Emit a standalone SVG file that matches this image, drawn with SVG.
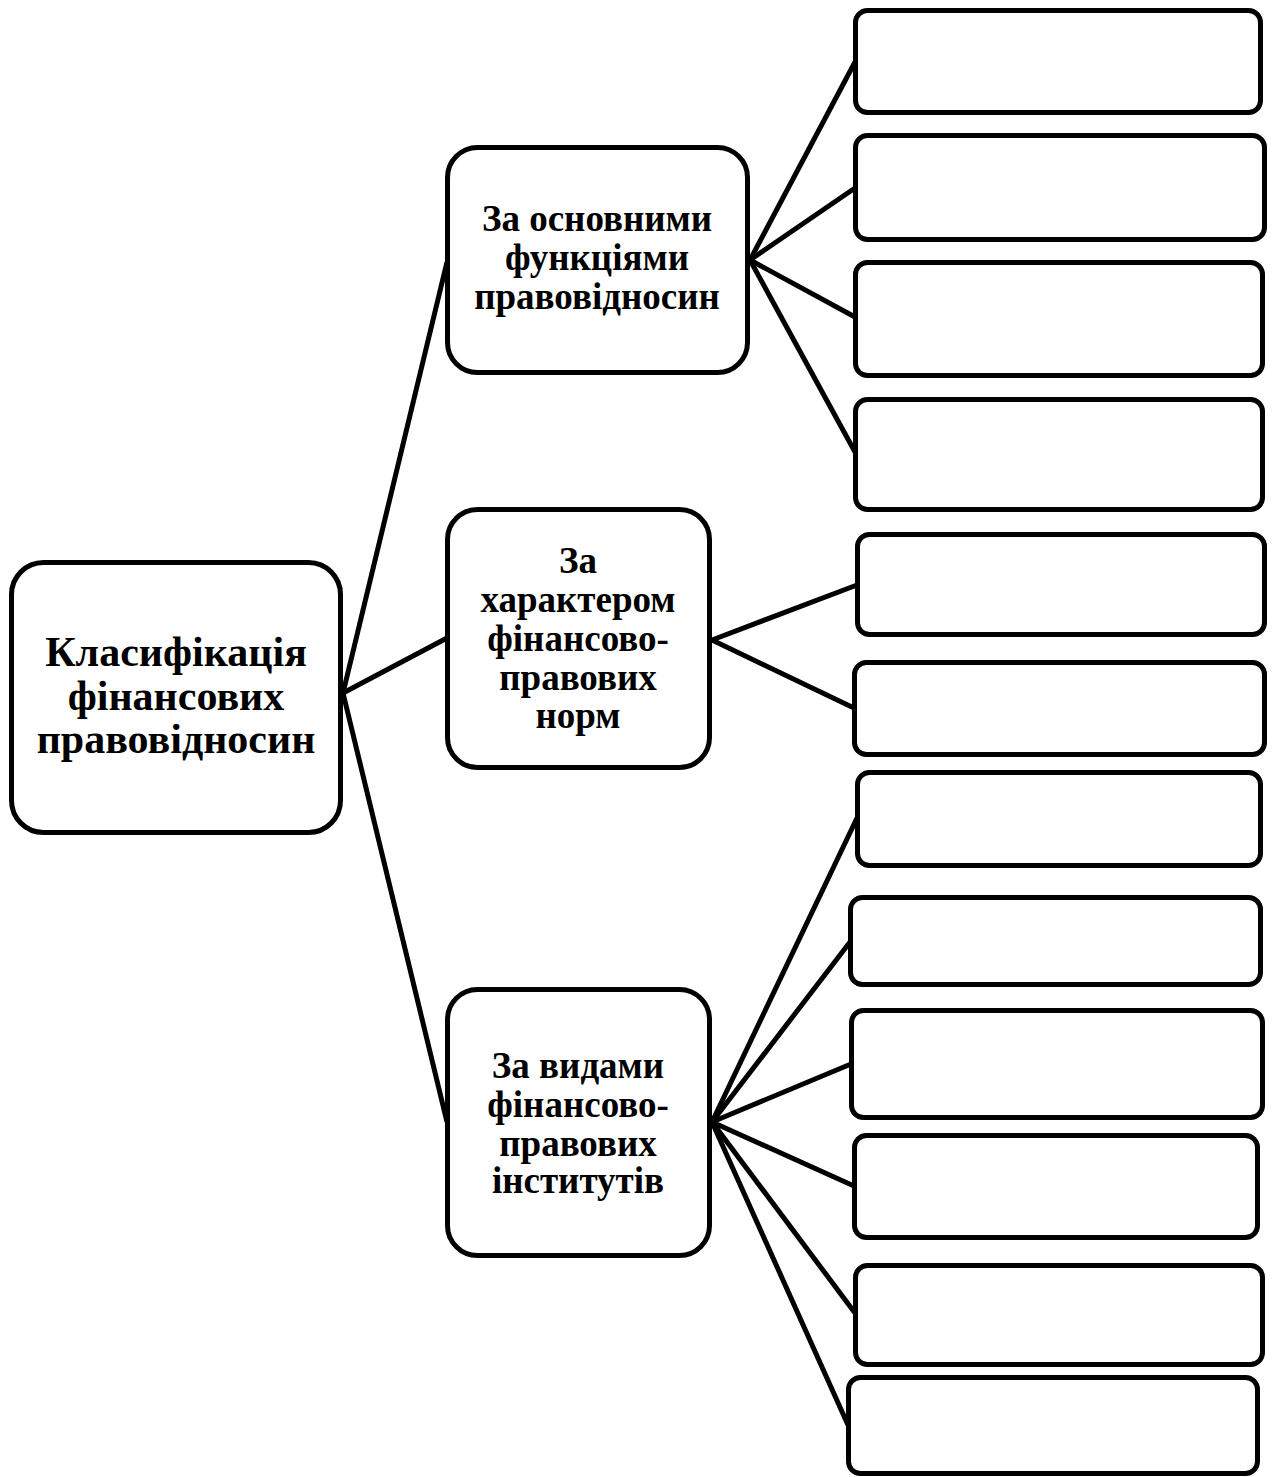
<svg xmlns="http://www.w3.org/2000/svg" width="1274" height="1477" viewBox="0 0 1274 1477">
<style>
.box{fill:#fff;stroke:#000;stroke-width:5}
.lf{fill:none;stroke:#000;stroke-width:5}
.t{font-family:"Liberation Serif","Times New Roman",serif;font-weight:bold;text-anchor:middle;fill:#000}
.tm{font-size:42px}
.ts{font-size:37px}
</style>
<rect width="1274" height="1477" fill="#fff"/>
<g id="connectors" class="lf">
<line x1="343" y1="693" x2="447" y2="262"/>
<line x1="343" y1="693" x2="447" y2="638"/>
<line x1="343" y1="693" x2="447" y2="1122"/>
<line x1="750" y1="260" x2="855" y2="62"/>
<line x1="750" y1="260" x2="855" y2="188"/>
<line x1="750" y1="260" x2="855" y2="317"/>
<line x1="750" y1="260" x2="855" y2="452"/>
<line x1="712" y1="640" x2="857" y2="585"/>
<line x1="712" y1="640" x2="854" y2="708"/>
<line x1="712" y1="1122" x2="857" y2="818"/>
<line x1="712" y1="1122" x2="850" y2="942"/>
<line x1="712" y1="1122" x2="851" y2="1064"/>
<line x1="712" y1="1122" x2="854" y2="1186"/>
<line x1="712" y1="1122" x2="855" y2="1313"/>
<line x1="712" y1="1122" x2="848" y2="1425"/>
</g>
<g id="main">
<rect class="box" x="11.5" y="562.5" width="329" height="270" rx="32"/>
<text class="t tm"><tspan x="176" y="666">Класифікація</tspan><tspan x="176" y="710">фінансових</tspan><tspan x="176" y="753">правовідносин</tspan></text>
</g>
<g id="b1">
<rect class="box" x="447.5" y="147.5" width="300" height="225" rx="30"/>
<text class="t ts"><tspan x="597" y="231">За основними</tspan><tspan x="597" y="270">функціями</tspan><tspan x="597" y="309">правовідносин</tspan></text>
</g>
<g id="b2">
<rect class="box" x="447.5" y="509.5" width="262" height="258" rx="30"/>
<text class="t ts"><tspan x="578" y="573">За</tspan><tspan x="578" y="612">характером</tspan><tspan x="578" y="651">фінансово-</tspan><tspan x="578" y="690">правових</tspan><tspan x="578" y="728">норм</tspan></text>
</g>
<g id="b3">
<rect class="box" x="447.5" y="989.5" width="262" height="266" rx="30"/>
<text class="t ts"><tspan x="578" y="1078">За видами</tspan><tspan x="578" y="1117">фінансово-</tspan><tspan x="578" y="1156">правових</tspan><tspan x="578" y="1193">інститутів</tspan></text>
</g>
<g id="r1"><rect class="box" x="855.5" y="10.5" width="405" height="102" rx="12"/></g>
<g id="r2"><rect class="box" x="855.5" y="135.5" width="409" height="104" rx="12"/></g>
<g id="r3"><rect class="box" x="855.5" y="262.5" width="407" height="113" rx="12"/></g>
<g id="r4"><rect class="box" x="855.5" y="399.5" width="407" height="110" rx="12"/></g>
<g id="r5"><rect class="box" x="857.5" y="534.5" width="407" height="100" rx="12"/></g>
<g id="r6"><rect class="box" x="854.5" y="662.5" width="410" height="92" rx="12"/></g>
<g id="r7"><rect class="box" x="857.5" y="772.5" width="403" height="93" rx="12"/></g>
<g id="r8"><rect class="box" x="850.5" y="897.5" width="410" height="87" rx="12"/></g>
<g id="r9"><rect class="box" x="851.5" y="1010.5" width="411" height="107" rx="12"/></g>
<g id="r10"><rect class="box" x="854.5" y="1135.5" width="403" height="102" rx="12"/></g>
<g id="r11"><rect class="box" x="855.5" y="1265.5" width="407" height="99" rx="12"/></g>
<g id="r12"><rect class="box" x="848.5" y="1377.5" width="409" height="96" rx="12"/></g>
</svg>
